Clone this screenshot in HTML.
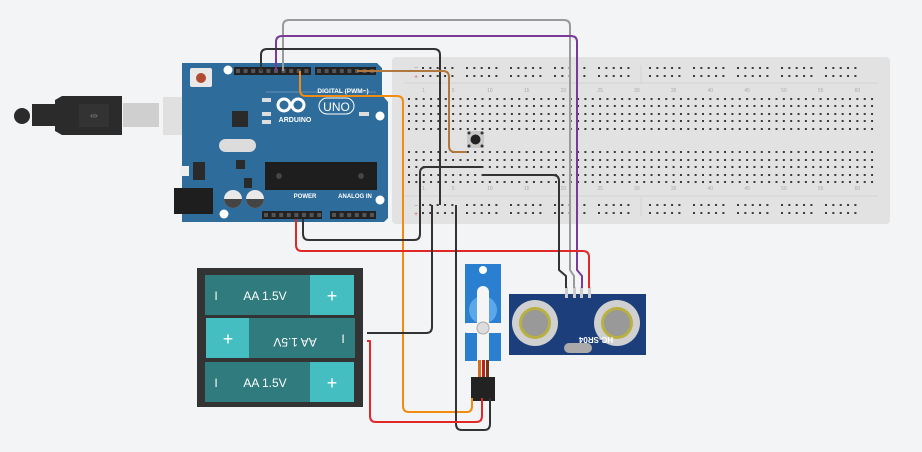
<!DOCTYPE html>
<html><head><meta charset="utf-8"><style>
html,body{margin:0;padding:0;background:#f3f4f6;}
svg{display:block;font-family:"Liberation Sans",sans-serif;}
</style></head><body>
<svg width="922" height="452" viewBox="0 0 922 452" xmlns="http://www.w3.org/2000/svg">
<rect width="922" height="452" fill="#f3f4f6"/>

<!-- Breadboard -->
<rect x="392" y="57" width="498" height="167" rx="4" fill="#e2e2e2"/>
<line x1="404" y1="83" x2="878" y2="83" stroke="#d4d4d4"/>
<line x1="404" y1="196" x2="878" y2="196" stroke="#d4d4d4"/>
<line x1="641" y1="65" x2="641" y2="84" stroke="#d4d4d4"/>
<line x1="641" y1="197" x2="641" y2="216" stroke="#d4d4d4"/>
<g id="bbholes" fill="#3a3a3a"></g>
<g font-size="5" fill="#aaa" id="bbnums"></g>
<text x="414" y="70" font-size="7" fill="#6aa0d8">−</text>
<text x="414" y="79" font-size="7" fill="#e06060">+</text>
<text x="414" y="208" font-size="7" fill="#6aa0d8">−</text>
<text x="414" y="216" font-size="7" fill="#e06060">+</text>
<!-- pushbutton -->
<rect x="467" y="131" width="17" height="17" fill="#c9c9c9"/>
<circle cx="469" cy="133" r="1.5" fill="#333"/><circle cx="482" cy="133" r="1.5" fill="#333"/>
<circle cx="469" cy="146" r="1.5" fill="#333"/><circle cx="482" cy="146" r="1.5" fill="#333"/>
<circle cx="475.5" cy="139.5" r="5" fill="#222"/>

<!-- USB cable -->
<rect x="123" y="103" width="36" height="24" fill="#cfcfcf"/>
<path d="M55 100 L62 96 L122 96 L122 135 L62 135 L55 131 Z" fill="#2b2b2b"/>
<rect x="32" y="104" width="26" height="22" fill="#2b2b2b"/>
<ellipse cx="22" cy="116" rx="8" ry="8" fill="#2b2b2b"/>
<rect x="79" y="104" width="30" height="23" fill="#333"/>
<text x="94" y="119" font-size="10" fill="#666" text-anchor="middle">⇹</text>
<rect x="163" y="97" width="50" height="38" fill="#e0e0e0"/>

<!-- Arduino -->
<path d="M182 63 L377 63 L382 68 L382 95 L388 102 L388 218 L384 222 L182 222 Z" fill="#2e6c9c"/>
<circle cx="228" cy="70" r="4.5" fill="#fff"/>
<circle cx="380" cy="116" r="4.5" fill="#fff"/>
<circle cx="380" cy="200" r="4.5" fill="#fff"/>
<circle cx="224" cy="214" r="4.5" fill="#fff"/>
<rect x="190" y="68" width="22" height="19" rx="2" fill="#e8e8e8"/>
<circle cx="201" cy="78" r="5" fill="#b04a30"/>
<rect x="234" y="67" width="77" height="8" fill="#222"/>
<rect x="315" y="67" width="61" height="8" fill="#222"/>
<rect x="262" y="211" width="60" height="8" fill="#222"/>
<rect x="330" y="211" width="46" height="8" fill="#222"/>
<g fill="#555" id="hdr"></g>
<text x="343" y="93" font-size="6.5" fill="#fff" font-weight="bold" text-anchor="middle">DIGITAL (PWM~)</text>
<line x1="266" y1="92" x2="376" y2="92" stroke="#fff" stroke-width="0.6" opacity="0.5"/>
<text x="305" y="198" font-size="6" fill="#fff" font-weight="bold" text-anchor="middle">POWER</text>
<text x="355" y="198" font-size="6" fill="#fff" font-weight="bold" text-anchor="middle">ANALOG IN</text>
<g font-size="4" fill="#fff" id="pinlbl"></g>
<!-- logo -->
<g fill="none" stroke="#fff" stroke-width="3">
<circle cx="284" cy="105" r="6"/><circle cx="298" cy="105" r="6"/>
</g>
<text x="295" y="122" font-size="7" fill="#fff" font-weight="bold" text-anchor="middle">ARDUINO</text>
<rect x="319" y="98" width="35" height="16" rx="8" fill="none" stroke="#fff" stroke-width="1"/>
<text x="336.5" y="111" font-size="12" fill="#fff" text-anchor="middle">UNO</text>
<rect x="262" y="98" width="9" height="4" fill="#ddd"/>
<rect x="262" y="112" width="9" height="4" fill="#ddd"/>
<rect x="262" y="120" width="9" height="4" fill="#ddd"/>
<rect x="359" y="112" width="10" height="4" fill="#ddd"/>
<rect x="232" y="111" width="16" height="16" fill="#2a2a2a"/>
<rect x="219" y="139" width="37" height="13" rx="6.5" fill="#dcdcdc"/>
<rect x="236" y="160" width="9" height="9" fill="#2a2a2a"/>
<rect x="193" y="162" width="12" height="18" fill="#2a2a2a"/>
<rect x="180" y="166" width="9" height="10" fill="#eee"/>
<rect x="244" y="178" width="8" height="10" fill="#2a2a2a"/>
<rect x="265" y="162" width="112" height="28" fill="#1e1e1e"/>
<circle cx="279" cy="176" r="3" fill="#444"/><circle cx="361" cy="176" r="3" fill="#444"/>
<rect x="174" y="188" width="39" height="26" fill="#1e1e1e"/>
<circle cx="233" cy="199" r="9" fill="#e8e8e8"/><path d="M224 199 A9 9 0 0 0 242 199 Z" fill="#444"/>
<circle cx="255" cy="199" r="9" fill="#e8e8e8"/><path d="M246 199 A9 9 0 0 0 264 199 Z" fill="#444"/>

<!-- Battery pack -->
<rect x="197" y="268" width="166" height="139" fill="#333"/>
<g font-size="12" fill="#fff">
<rect x="205" y="275" width="149" height="40" fill="#2f7b7e"/>
<rect x="310" y="275" width="44" height="40" fill="#45bec1"/>
<text x="265" y="300" text-anchor="middle">AA 1.5V</text>
<text x="332" y="302" font-size="18" text-anchor="middle">+</text>
<text x="216" y="300" text-anchor="middle">I</text>
<rect x="206" y="318" width="149" height="40" fill="#2f7b7e"/>
<rect x="206" y="318" width="43" height="40" fill="#45bec1"/>
<text x="228" y="345" font-size="18" text-anchor="middle">+</text>
<text x="295" y="338" text-anchor="middle" transform="rotate(180 295 338)">AA 1.5V</text>
<text x="343" y="343" text-anchor="middle">I</text>
<rect x="205" y="362" width="149" height="40" fill="#2f7b7e"/>
<rect x="310" y="362" width="44" height="40" fill="#45bec1"/>
<text x="265" y="387" text-anchor="middle">AA 1.5V</text>
<text x="332" y="389" font-size="18" text-anchor="middle">+</text>
<text x="216" y="387" text-anchor="middle">I</text>
</g>

<!-- Servo -->
<rect x="465" y="264" width="36" height="97" fill="#2a7fd0"/>
<circle cx="483" cy="270" r="4" fill="#fff"/>
<circle cx="483" cy="310" r="14" fill="#5aa8ea"/>
<rect x="477" y="286" width="12" height="86" rx="6" fill="#f5f5f5"/>
<rect x="462" y="323" width="43" height="10" rx="5" fill="#f5f5f5"/>
<circle cx="483" cy="328" r="6" fill="#ddd" stroke="#aaa"/>
<rect x="478" y="360" width="3" height="18" fill="#d07020"/><rect x="482" y="360" width="3" height="18" fill="#c02020"/><rect x="486" y="360" width="3" height="18" fill="#6a3a1a"/>
<rect x="471" y="377" width="24" height="24" fill="#222"/>

<!-- Sensor -->
<rect x="509" y="294" width="137" height="61" fill="#1c3f7c"/>
<circle cx="535" cy="323" r="23" fill="#d0d0d0"/><circle cx="535" cy="323" r="16" fill="#b8b040"/><circle cx="535" cy="323" r="13" fill="#999"/>
<circle cx="617" cy="323" r="23" fill="#d0d0d0"/><circle cx="617" cy="323" r="16" fill="#b8b040"/><circle cx="617" cy="323" r="13" fill="#999"/>
<rect x="564" y="343" width="28" height="10" rx="5" fill="#aaa"/>
<text x="596" y="337" font-size="8" fill="#fff" text-anchor="middle" transform="rotate(180 596 337)" font-weight="bold">HC-SR04</text>
<g fill="#ccc"><rect x="565" y="287" width="3" height="11"/><rect x="573" y="287" width="3" height="11"/><rect x="580" y="287" width="3" height="11"/><rect x="588" y="287" width="3" height="11"/></g>

<!-- Wires -->
<g fill="none" stroke-width="2" stroke-linejoin="round">
<path d="M283 71 V26 Q283 20 289 20 H564 Q570 20 570 26 V270 L574 276 V288" stroke="#9a9a9a"/>
<path d="M276 71 V42 Q276 36 282 36 H571 Q577 36 577 42 V270 L582 276 V288" stroke="#7a3a9a"/>
<path d="M261 71 V55 Q261 49 267 49 H434 Q440 49 440 55 V205" stroke="#333"/>
<path d="M357 71 H443 Q449 71 449 77 V146 Q449 152 455 152 H467" stroke="#b07840"/>
<path d="M300 71 V90 Q300 96 306 96 H397 Q403 96 403 102 V406 Q403 412 409 412 H467 Q472 412 472 406 V398" stroke="#f08c10"/>
<path d="M303 219 V234 Q303 240 309 240 H414 Q420 240 420 234 V173 Q420 167 426 167 H483" stroke="#333"/>
<path d="M296 219 V245 Q296 251 302 251 H583 Q589 251 589 257 V288" stroke="#e02828"/>
<path d="M483 175 H553 Q559 175 559 181 V270 L566 276 V288" stroke="#333"/>
<path d="M432 205 V327 Q432 333 426 333 H367" stroke="#333"/>
<path d="M456 205 V424 Q456 430 462 430 H484 Q490 430 490 424 V398" stroke="#333"/>
<path d="M367 341 H370 V416 Q370 422 376 422 H476 Q482 422 482 416 V398" stroke="#e02828"/>
</g>
</svg>
<script>
var ns="http://www.w3.org/2000/svg";
function el(p,t,a){var e=document.createElementNS(ns,t);for(var k in a)e.setAttribute(k,a[k]);p.appendChild(e);return e;}
var g=document.getElementById("bbholes");
var rows=[99,106,114,121,129,152,160,167,175,182];
for(var c=0;c<64;c++){var x=409+c*7.35;rows.forEach(function(y){el(g,"rect",{x:x-1,y:y-1,width:2,height:2});});}
[68,76,205,213].forEach(function(y){for(var gi=0;gi<10;gi++){var bx=423+gi*44+(gi>=5?7:0);for(var i=0;i<5;i++)el(g,"rect",{x:bx+i*7.35-1,y:y-1,width:2,height:2});}});
var n=document.getElementById("bbnums");
[1,5,10,15,20,25,30,35,40,45,50,55,60].forEach(function(v){var x=409+(v+1)*7.35;[92,190].forEach(function(y){var t=el(n,"text",{x:x,y:y,"text-anchor":"middle"});t.textContent=v;});});
var h=document.getElementById("hdr");
[[234,311],[315,376],[262,322],[330,376]].forEach(function(r,i){var y=i<2?69:213;for(var x=r[0]+2;x<r[1]-3;x+=7.6)el(h,"rect",{x:x,y:y,width:4,height:4});});
</script>
</body></html>
